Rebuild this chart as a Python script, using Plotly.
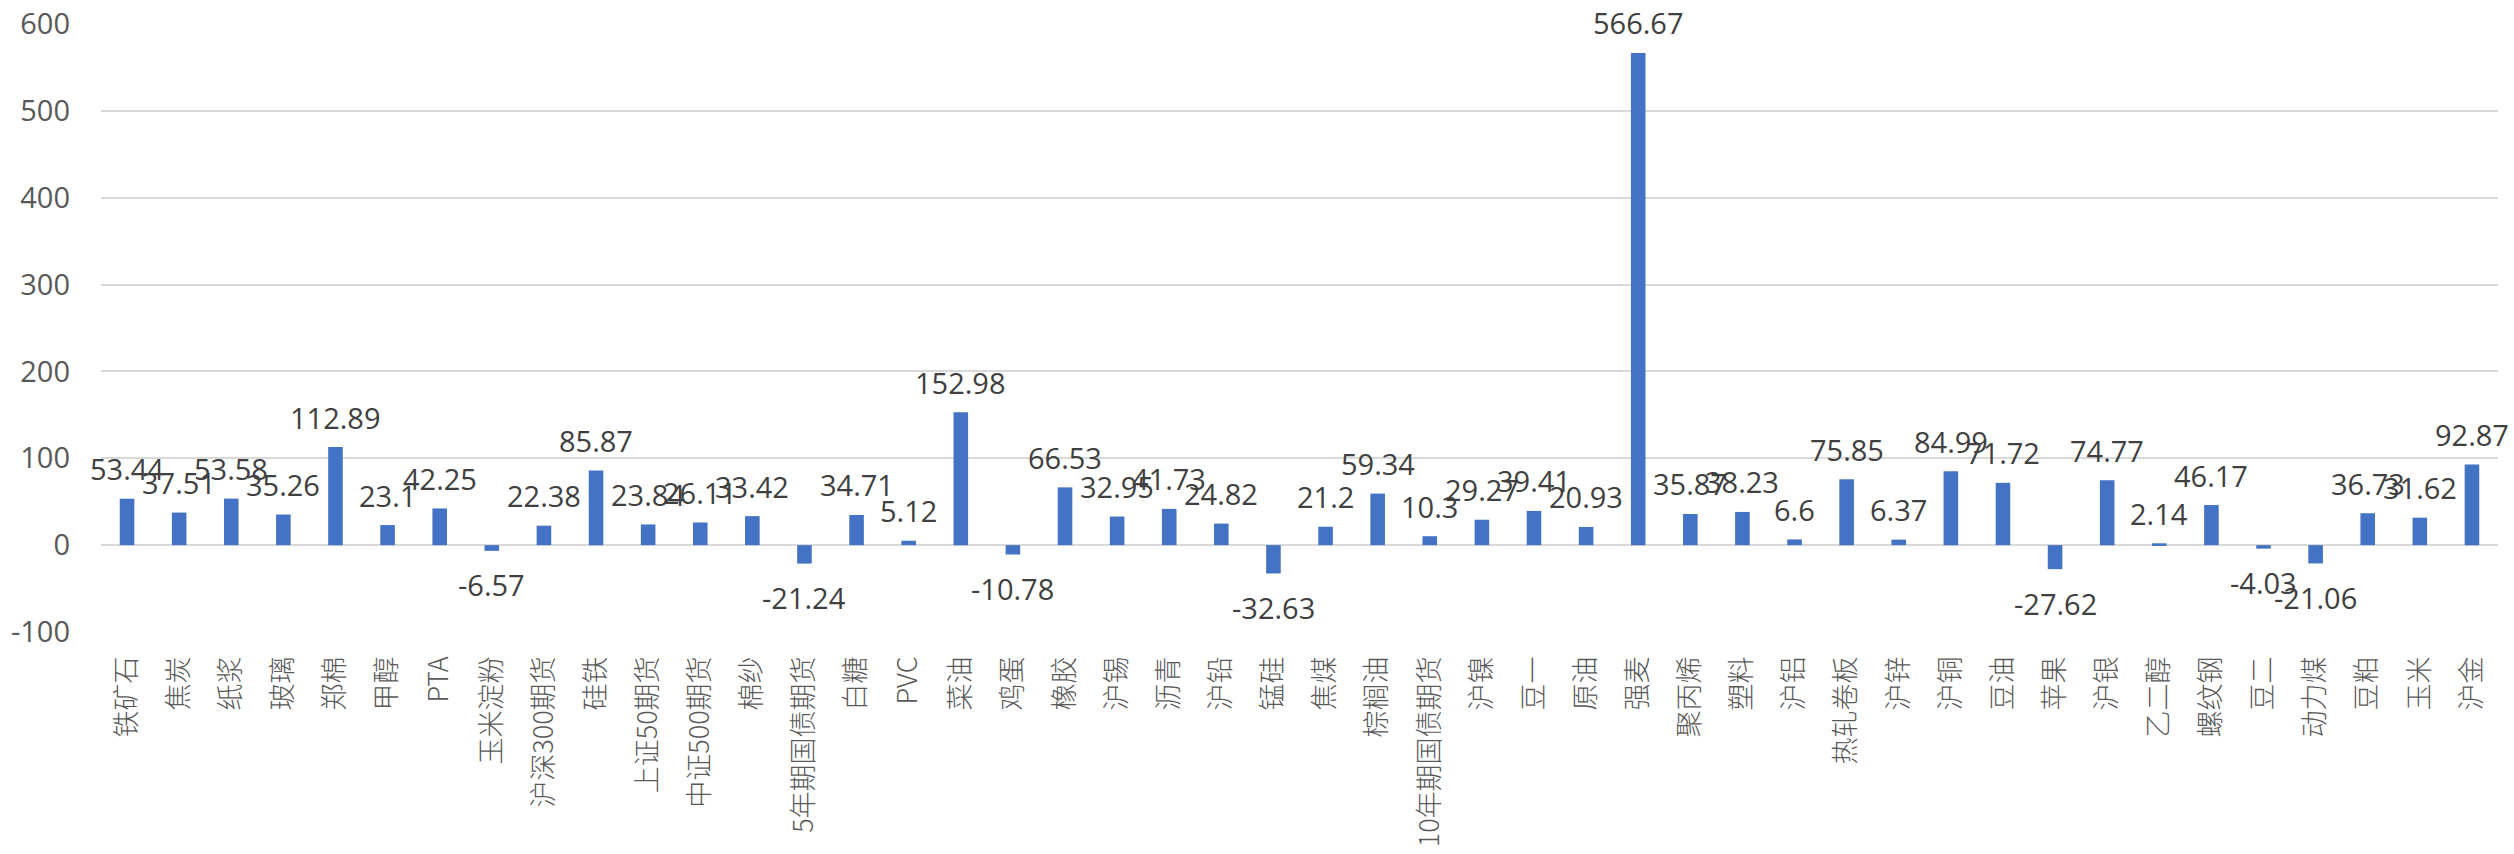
import plotly.graph_objects as go

categories = ["铁矿石", "焦炭", "纸浆", "玻璃", "郑棉", "甲醇", "PTA", "玉米淀粉", "沪深300期货", "硅铁",
              "上证50期货", "中证500期货", "棉纱", "5年期国债期货", "白糖", "PVC", "菜油", "鸡蛋", "橡胶", "沪锡",
              "沥青", "沪铅", "锰硅", "焦煤", "棕榈油", "10年期国债期货", "沪镍", "豆一", "原油", "强麦",
              "聚丙烯", "塑料", "沪铝", "热轧卷板", "沪锌", "沪铜", "豆油", "苹果", "沪银", "乙二醇",
              "螺纹钢", "豆二", "动力煤", "豆粕", "玉米", "沪金"]
values = [53.44, 37.51, 53.58, 35.26, 112.89, 23.1, 42.25, -6.57, 22.38, 85.87,
          23.84, 26.11, 33.42, -21.24, 34.71, 5.12, 152.98, -10.78, 66.53, 32.95,
          41.73, 24.82, -32.63, 21.2, 59.34, 10.3, 29.27, 39.41, 20.93, 566.67,
          35.87, 38.23, 6.6, 75.85, 6.37, 84.99, 71.72, -27.62, 74.77, 2.14,
          46.17, -4.03, -21.06, 36.73, 31.62, 92.87]
y_ticks = [-100, 0, 100, 200, 300, 400, 500, 600]

BAR = "#4472C4"
GRID = "#D9D9D9"
TXT = "#595959"
NUMFONT = "Open Sans, Noto Sans CJK SC, sans-serif"
CJKFONT = "Noto Sans CJK SC, Open Sans, sans-serif"

fig = go.Figure()
fig.add_trace(go.Bar(
    x=categories, y=values,
    marker=dict(color=BAR, line=dict(width=0)),
    width=0.28,
    hoverinfo="x+y",
))

for c, v in zip(categories, values):
    fig.add_annotation(
        x=c, y=v, xref="x", yref="y",
        text=f"{v:g}", showarrow=False,
        yanchor="middle", xanchor="center",
        yshift=30 if v >= 0 else -34,
        font=dict(family=NUMFONT, size=29, color="#404040"),
    )

fig.update_layout(
    width=2514, height=854,
    margin=dict(l=101, r=16, t=24, b=222),
    paper_bgcolor="white", plot_bgcolor="white",
    showlegend=False,
    bargap=0.72,
)
fig.update_xaxes(
    type="category",
    range=[-0.5, len(categories) - 0.5],
    tickangle=-90,
    tickfont=dict(family=CJKFONT, size=27, color=TXT, weight=300),
    showgrid=False, showline=False, ticks="",
    ticklabelstandoff=18,
    automargin=False,
)
fig.update_yaxes(
    range=[-100, 600],
    tickvals=y_ticks,
    ticktext=[str(t) for t in y_ticks],
    tickfont=dict(family=NUMFONT, size=29, color=TXT),
    showgrid=True, gridcolor=GRID, gridwidth=2,
    zeroline=True, zerolinecolor=GRID, zerolinewidth=2,
    showline=False, ticks="",
    ticklabelstandoff=30,
    automargin=False,
)

fig.write_html(
    "out.html",
    config={"displayModeBar": False},
    post_script="document.body.style.margin='0';document.body.style.overflow='hidden';",
)
